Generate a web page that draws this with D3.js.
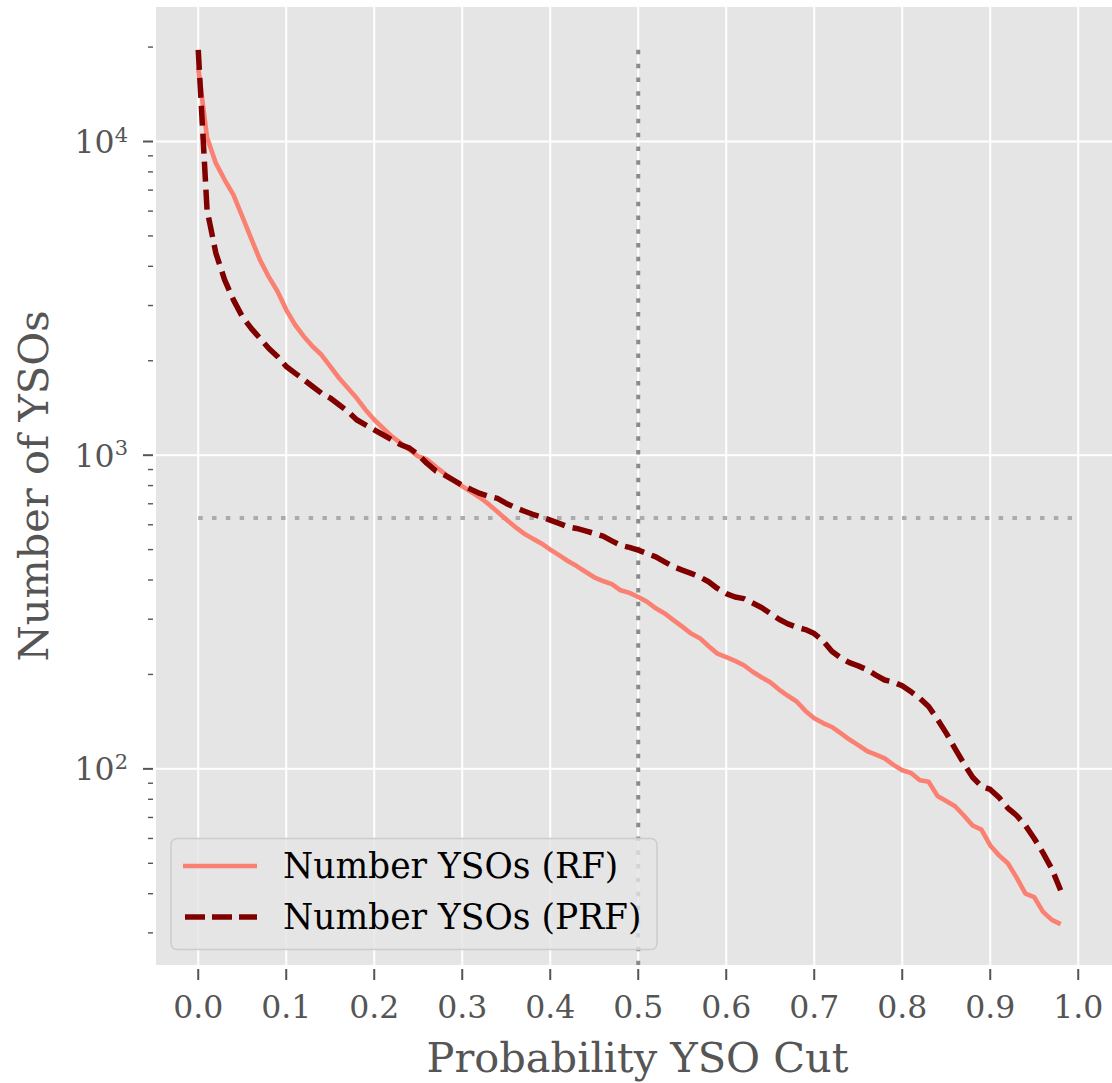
<!DOCTYPE html>
<html>
<head>
<meta charset="utf-8">
<script src="https://cdn.jsdelivr.net/npm/d3@7"></script>
<style>
  body { margin: 0; background: #fff; }
  svg text { font-family: "DejaVu Serif", serif; }
</style>
</head>
<body>
<script>
// probability cut thresholds
var probCut = [0.00,0.01,0.02,0.03,0.04,0.05,0.06,0.07,0.08,0.09,
  0.10,0.11,0.12,0.13,0.14,0.15,0.16,0.17,0.18,0.19,
  0.20,0.21,0.22,0.23,0.24,0.25,0.26,0.27,0.28,0.29,
  0.30,0.31,0.32,0.33,0.34,0.35,0.36,0.37,0.38,0.39,
  0.40,0.41,0.42,0.43,0.44,0.45,0.46,0.47,0.48,0.49,
  0.50,0.51,0.52,0.53,0.54,0.55,0.56,0.57,0.58,0.59,
  0.60,0.61,0.62,0.63,0.64,0.65,0.66,0.67,0.68,0.69,
  0.70,0.71,0.72,0.73,0.74,0.75,0.76,0.77,0.78,0.79,
  0.80,0.81,0.82,0.83,0.84,0.85,0.86,0.87,0.88,0.89,
  0.90,0.91,0.92,0.93,0.94,0.95,0.96,0.97,0.98];

// number of YSOs, random forest
var nRF = [17200,10300,8530,7550,6760,5770,4920,4200,3710,3330,
  2907,2605,2390,2220,2090,1918,1762,1637,1521,1396,
  1297,1220,1148,1093,1041,991,969,918,874,832,
  796,764,733,698,660,624,591,563,542,523,
  500,480,460,443,425,408,397,388,371,364,
  353,341,325,313,298,284,270,261,246,233,
  227,221,214,204,196,189,179,171,164,153,
  145,140,136,130,124,119,114,111,108,103,
  99,97,92,91,82,79,76,71,66,64,
  57,53,50,45,40,39,35,33,32];

// number of YSOs, probabilistic random forest
var nPRF = [19600,6060,4410,3620,3127,2768,2541,2360,2193,2063,
  1918,1827,1740,1656,1577,1521,1448,1379,1297,1250,
  1205,1162,1120,1080,1053,1004,941,891,864,832,
  802,778,755,740,728,702,681,664,648,636,
  621,606,591,584,574,563,552,533,516,508,
  498,486,474,457,441,430,420,409,395,376,
  362,353,349,338,327,313,300,290,283,278,
  270,256,237,226,218,213,207,199,192,189,
  184,176,168,158,144,130,116,104,94,88,
  86,81,75,71,66,60,54,48,41];

var seriesNames = ['Number YSOs (RF)', 'Number YSOs (PRF)'];
var xTicks = [0.0,0.1,0.2,0.3,0.4,0.5,0.6,0.7,0.8,0.9,1.0];
var yMajor = [100, 1000, 10000];
var yMinor = [30,40,50,60,70,80,90,200,300,400,500,600,700,800,900,
  2000,3000,4000,5000,6000,7000,8000,9000,20000];
var cutLine = 0.5;       // vertical reference
var countLine = 631;     // horizontal reference
var countLineEnd = 0.993;

var W = 1112, H = 1083;
var pL = 156, pR = 1113, pT = 7, pB = 965;

var svg = d3.select('body').append('svg').attr('width', W).attr('height', H);

var x = d3.scaleLinear().domain([-0.048, 1.0395]).range([pL, pR]);
var y = d3.scaleLog().domain([23.7, 26840]).range([pB, pT]);

// background
svg.append('rect').attr('x', pL).attr('y', pT)
  .attr('width', pR - pL).attr('height', pB - pT).attr('fill', '#e5e5e5');

// grid
svg.append('g').selectAll('line').data(xTicks).enter().append('line')
  .attr('x1', d => x(d)).attr('x2', d => x(d)).attr('y1', pT).attr('y2', pB)
  .attr('stroke', '#fff').attr('stroke-width', 2);
svg.append('g').selectAll('line').data(yMajor).enter().append('line')
  .attr('x1', pL).attr('x2', pR).attr('y1', d => y(d)).attr('y2', d => y(d))
  .attr('stroke', '#fff').attr('stroke-width', 2);

// x axis ticks + labels
var xa = svg.append('g');
xa.selectAll('line').data(xTicks).enter().append('line')
  .attr('x1', d => x(d)).attr('x2', d => x(d)).attr('y1', 969).attr('y2', 980)
  .attr('stroke', '#555').attr('stroke-width', 2);
xa.selectAll('text').data(xTicks).enter().append('text')
  .attr('x', d => x(d)).attr('y', 1018).attr('text-anchor', 'middle')
  .attr('font-size', 31.5).attr('fill', '#555').text(d => d.toFixed(1));

// y axis ticks + labels
var ya = svg.append('g');
ya.selectAll('line.maj').data(yMajor).enter().append('line')
  .attr('x1', 143).attr('x2', 153).attr('y1', d => y(d)).attr('y2', d => y(d))
  .attr('stroke', '#555').attr('stroke-width', 2);
ya.selectAll('line.min').data(yMinor).enter().append('line')
  .attr('x1', 148).attr('x2', 153).attr('y1', d => y(d)).attr('y2', d => y(d))
  .attr('stroke', '#555').attr('stroke-width', 1.4);
var yl = ya.selectAll('text').data(yMajor).enter().append('text')
  .attr('x', 128).attr('y', d => y(d) + 11.5).attr('text-anchor', 'end')
  .attr('font-size', 31.5).attr('fill', '#555');
yl.append('tspan').text('10');
yl.append('tspan').attr('font-size', 21).attr('dy', -11.5).text(d => Math.round(Math.log10(d)));

// reference lines
svg.append('line')
  .attr('x1', x(cutLine)).attr('x2', x(cutLine)).attr('y1', y(d3.max(nPRF))).attr('y2', pB)
  .attr('stroke', '#8a8a8a').attr('stroke-width', 4).attr('stroke-dasharray', '4.5,9.3');
svg.append('line')
  .attr('x1', x(0)).attr('x2', x(countLineEnd)).attr('y1', y(countLine)).attr('y2', y(countLine))
  .attr('stroke', '#ababab').attr('stroke-width', 4).attr('stroke-dasharray', '4.5,9.3');

// curves
var line = d3.line().x(d => x(d[0])).y(d => y(d[1]));
svg.append('path').datum(d3.zip(probCut, nRF)).attr('d', line)
  .attr('fill', 'none').attr('stroke', '#fa8072').attr('stroke-width', 4.6)
  .attr('stroke-linejoin', 'round');
svg.append('path').datum(d3.zip(probCut, nPRF)).attr('d', line)
  .attr('fill', 'none').attr('stroke', '#800000').attr('stroke-width', 5.5)
  .attr('stroke-dasharray', '20,8').attr('stroke-linejoin', 'round');

// legend
var lg = svg.append('g');
lg.append('rect').attr('x', 171).attr('y', 838.5).attr('width', 486).attr('height', 111)
  .attr('rx', 6).attr('fill', '#e5e5e5').attr('fill-opacity', 0.8)
  .attr('stroke', '#cccccc').attr('stroke-width', 1.5);
var legStyles = [{c: '#fa8072', w: 4.6, dash: null}, {c: '#800000', w: 5.5, dash: '20,7'}];
seriesNames.forEach(function (name, i) {
  var ly = 866 + i * 51;
  var l = lg.append('line').attr('x1', 183).attr('x2', 257).attr('y1', ly).attr('y2', ly)
    .attr('stroke', legStyles[i].c).attr('stroke-width', legStyles[i].w);
  if (legStyles[i].dash) l.attr('stroke-dasharray', legStyles[i].dash).attr('x1', 185);
  lg.append('text').attr('x', 283).attr('y', ly + 12).attr('font-size', 34.5)
    .attr('fill', '#000').text(name);
});

// axis labels
svg.append('text').attr('x', (pL + pR) / 2 + 3).attr('y', 1072).attr('text-anchor', 'middle')
  .attr('font-size', 41.5).attr('fill', '#555').text('Probability YSO Cut');
svg.append('text').attr('transform', 'translate(48,' + ((pT + pB) / 2) + ') rotate(-90)')
  .attr('text-anchor', 'middle').attr('font-size', 41.5).attr('fill', '#555').text('Number of YSOs');
</script>
</body>
</html>
